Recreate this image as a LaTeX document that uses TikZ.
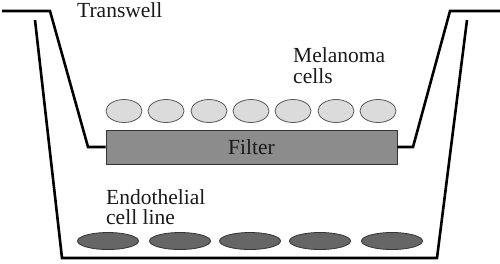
\documentclass[tikz,border=0pt]{standalone}
\usepackage{fontspec}
\setmainfont{Liberation Serif}
\usetikzlibrary{shapes.geometric}
\begin{document}
\begin{tikzpicture}[x=1pt,y=-1pt,
  wall/.style={line width=2.6pt,black,line join=miter},
  mel/.style={ellipse,draw=black!65,fill=black!14,line width=0.8pt,minimum width=36pt,minimum height=23pt,inner sep=0pt},
  endo/.style={ellipse,draw=black!80,fill=black!60,line width=0.8pt,minimum width=61pt,minimum height=17pt,inner sep=0pt},
  lbl/.style={inner sep=0pt,align=left,font=\fontsize{21.5}{20.5}\selectfont,text=black!90}]
\useasboundingbox (0,0) rectangle (500,263);
% filter
\node[draw=black!80,fill=black!45,line width=0.8pt,minimum width=291pt,minimum height=34pt,inner sep=0pt,
  font=\fontsize{21.5}{21}\selectfont,text=black!90] (filter) at (251.5,147) {Filter};
% transwell insert
\coordinate (tl) at (2,11);
\coordinate (tlb) at (50,11);
\coordinate (tlc) at (88,147);
\coordinate (tr) at (500,11);
\coordinate (trb) at (450,11);
\coordinate (trc) at (413,147);
\draw[wall] (tl) -- (tlb) -- (tlc) -- (filter.west);
\draw[wall] (tr) -- (trb) -- (trc) -- (filter.east);
% outer well
\coordinate (ol) at (35,20);
\coordinate (olb) at (62,258);
\coordinate (orb) at (437,258);
\coordinate (or) at (467,20);
\draw[wall] (ol) -- (olb) -- (orb) -- (or);
% melanoma cells
\foreach \i/\x in {1/124,2/166,3/209,4/251,5/293,6/336,7/378}
  \node[mel] (m\i) at (\x,111) {};
% endothelial cells
\foreach \i/\x in {1/108,2/180,3/250,4/320,5/392}
  \node[endo] (e\i) at (\x,241) {};
% labels
\node[lbl,anchor=base west] (transwell) at (77,17) {Transwell};
\node[lbl,anchor=north west] (melanoma) at (293,47.5) {Melanoma\\cells};
\node[lbl,anchor=north west] (endothelial) at (106,189) {Endothelial\\cell line};
\end{tikzpicture}
\end{document}
